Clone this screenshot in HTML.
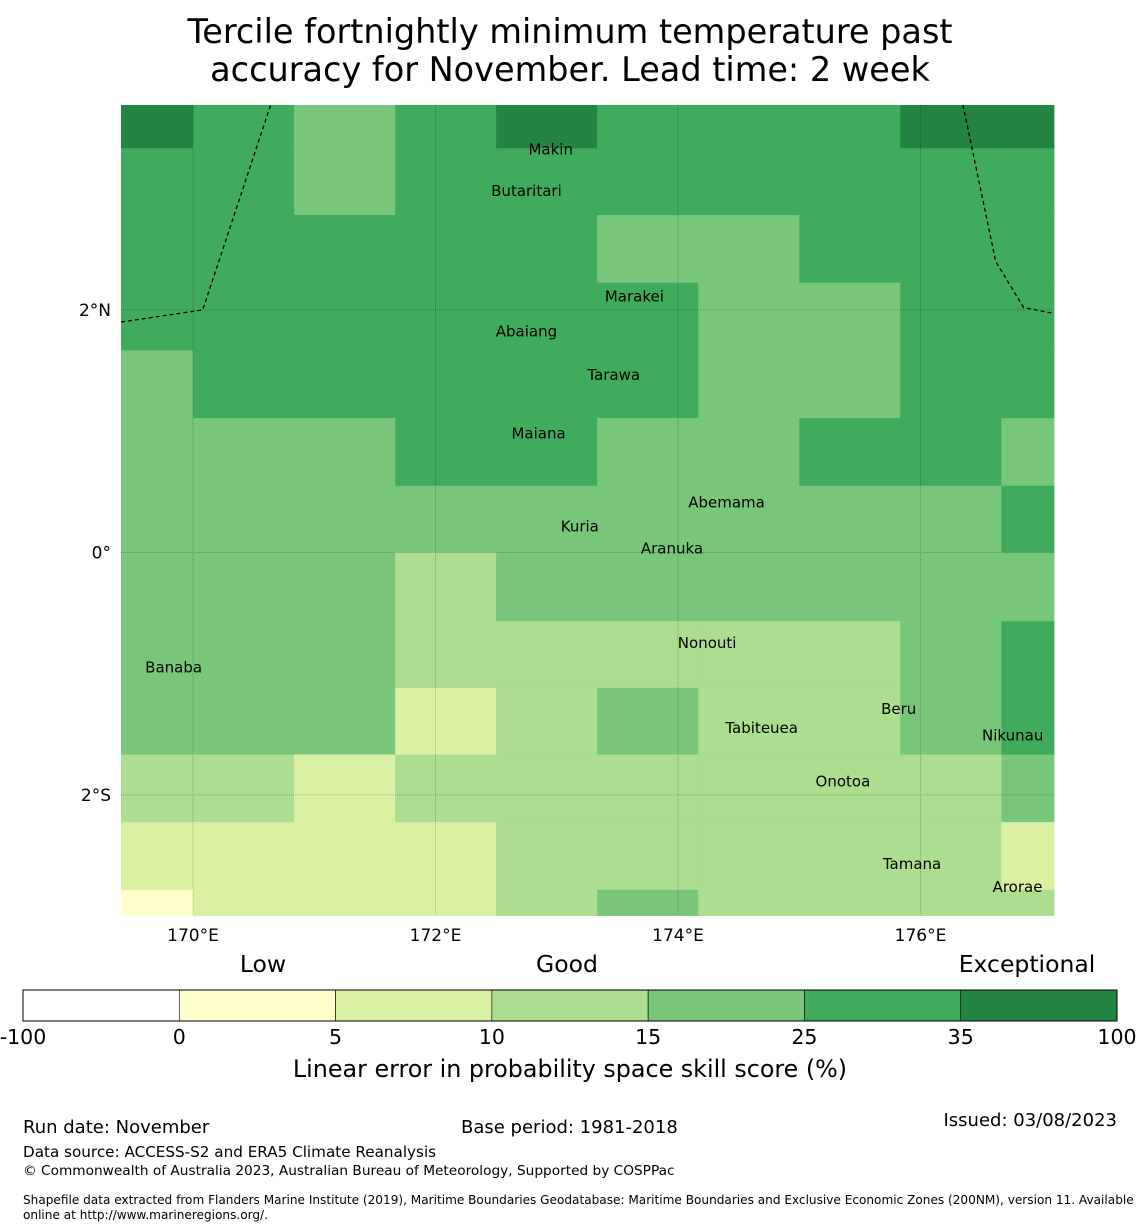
<!DOCTYPE html>
<html><head><meta charset="utf-8">
<style>
html,body{margin:0;padding:0;background:#fff;width:1140px;height:1230px;overflow:hidden;font-family:"DejaVu Sans","Liberation Sans",sans-serif;}
svg text{font-family:"DejaVu Sans","Liberation Sans",sans-serif;}
</style></head><body>
<svg id="chart" width="1140" height="1230" xmlns="http://www.w3.org/2000/svg">
<text x="570" y="43" font-size="33.5" text-anchor="middle">Tercile fortnightly minimum temperature past</text>
<text x="570" y="81" font-size="33.5" text-anchor="middle">accuracy for November. Lead time: 2 week</text>
<g id="map"></g>
<g id="cbar"></g>
<text x="570" y="1077" font-size="23.8" text-anchor="middle">Linear error in probability space skill score (%)</text>
<text x="23" y="1133" font-size="18">Run date: November</text>
<text x="461" y="1133" font-size="18">Base period: 1981-2018</text>
<text x="1117" y="1126" font-size="18" text-anchor="end">Issued: 03/08/2023</text>
<text x="23" y="1157" font-size="15.2">Data source: ACCESS-S2 and ERA5 Climate Reanalysis</text>
<text x="23" y="1175" font-size="13.7">© Commonwealth of Australia 2023, Australian Bureau of Meteorology, Supported by COSPPac</text>
<text x="23" y="1204" font-size="12.1">Shapefile data extracted from Flanders Marine Institute (2019), Maritime Boundaries Geodatabase: Maritime Boundaries and Exclusive Economic Zones (200NM), version 11. Available</text>
<text x="23" y="1219" font-size="12.1">online at http://www.marineregions.org/.</text>
</svg>
<script>
// Data
const lonEdges = [169.406, 170.0, 170.833, 171.667, 172.5, 173.333, 174.167, 175.0, 175.833, 176.667, 177.1];
const latEdges = [3.69, 3.333, 2.783, 2.225, 1.667, 1.108, 0.55, 0.0, -0.567, -1.117, -1.667, -2.225, -2.783, -2.994];
const skill = [
 [40,30,20,30,40,30,30,30,40,40],
 [30,30,20,30,30,30,30,30,30,30],
 [30,30,30,30,30,20,20,30,30,30],
 [30,30,30,30,30,30,20,20,30,30],
 [20,30,30,30,30,30,20,20,30,30],
 [20,20,20,30,30,20,20,30,30,20],
 [20,20,20,20,20,20,20,20,20,30],
 [20,20,20,12,20,20,20,20,20,20],
 [20,20,20,12,12,12,12,12,20,30],
 [20,20,20,7,12,20,12,12,20,30],
 [12,12,7,12,12,12,12,12,12,20],
 [7,7,7,7,12,12,12,12,12,7],
 [3,7,7,7,12,20,12,12,12,12]
];
const bounds = [-100,0,5,10,15,25,35,100];
const binColors = ['#ffffff','#ffffcc','#d9f0a3','#addd8e','#78c679','#41ab5d','#238443'];
const xTicks = [170,172,174,176];
const xTickLabels = ['170°E','172°E','174°E','176°E'];
const yTicks = [2,0,-2];
const yTickLabels = ['2°N','0°','2°S'];
const islands = [
 ['Makin',172.95,3.33],['Butaritari',172.75,2.99],['Marakei',173.64,2.12],['Abaiang',172.75,1.83],
 ['Tarawa',173.47,1.47],['Maiana',172.85,0.99],['Abemama',174.4,0.42],['Kuria',173.19,0.22],
 ['Aranuka',173.95,0.04],['Nonouti',174.24,-0.74],['Banaba',169.84,-0.94],['Beru',175.82,-1.285],
 ['Tabiteuea',174.69,-1.44],['Nikunau',176.76,-1.5],['Onotoa',175.36,-1.88],['Tamana',175.93,-2.56],['Arorae',176.8,-2.75]
];
const eezLeft = [[169.406,1.9],[170.08,2.0],[170.64,3.69]];
const eezRight = [[176.35,3.69],[176.62,2.4],[176.85,2.02],[177.1,1.97]];

const X0=121,X1=1054,Y0=105,Y1=915,lonMin=169.406,latMax=3.69,ppd=121.25;
const xs=l=>X0+(l-lonMin)*ppd, ys=l=>Y0+(latMax-l)*ppd;
const NS='http://www.w3.org/2000/svg';
function mk(t,a,p){const e=document.createElementNS(NS,t);for(const k in a)e.setAttribute(k,a[k]);p.appendChild(e);return e;}
function colorFor(v){for(let i=0;i<bounds.length-1;i++){if(v<bounds[i+1])return binColors[i];}return binColors[binColors.length-1];}
const map=document.getElementById('map');
for(let r=0;r<skill.length;r++)for(let c=0;c<skill[r].length;c++){
 const x=xs(lonEdges[c]),x2=xs(lonEdges[c+1]),y=ys(latEdges[r]),y2=ys(latEdges[r+1]);
 const e=mk('rect',{x:x,y:y,width:x2-x+0.5,height:y2-y+0.5,fill:colorFor(skill[r][c])},map);
 
 
}
xTicks.forEach((t,i)=>{const x=xs(t);
 const l=mk('line',{x1:x,y1:Y0,x2:x,y2:Y1,stroke:'#000','stroke-width':0.5,'stroke-opacity':0.5,'stroke-dasharray':'1,1'},map);
 
 
 const tx=mk('text',{x:x,y:941,'font-size':17,'text-anchor':'middle'},map);tx.textContent=xTickLabels[i];
 
 
});
yTicks.forEach((t,i)=>{const y=ys(t);
 const l=mk('line',{x1:X0,y1:y,x2:X1,y2:y,stroke:'#000','stroke-width':0.5,'stroke-opacity':0.5,'stroke-dasharray':'1,1'},map);
 
 
 const tx=mk('text',{x:111,y:y+6,'font-size':17,'text-anchor':'end'},map);tx.textContent=yTickLabels[i];
 
 
});
[eezLeft,eezRight].forEach(pts=>{
 const p=mk('polyline',{points:pts.map(q=>xs(q[0])+','+ys(q[1])).join(' '),fill:'none',stroke:'#000','stroke-width':1.3,'stroke-dasharray':'4,3'},map);
 
 
});
islands.forEach(d=>{const x=xs(d[1]),y=ys(d[2]);
 const t=mk('text',{x:x,y:y+6,'font-size':15,'text-anchor':'middle'},map);t.textContent=d[0];
 
 
});
const cb=document.getElementById('cbar');
const cx0=23,cw=1094,cy=990,ch=31,seg=cw/binColors.length;
binColors.forEach((c,i)=>{const e=mk('rect',{x:cx0+i*seg,y:cy,width:seg,height:ch,fill:c,stroke:'#000','stroke-width':0.6},cb);
 
 });
mk('rect',{x:cx0,y:cy,width:cw,height:ch,fill:'none',stroke:'#000','stroke-width':1},cb);
bounds.forEach((b,i)=>{const t=mk('text',{x:cx0+i*seg,y:1044,'font-size':20.5,'text-anchor':'middle'},cb);t.textContent=b;
 
 });
[['Low',263],['Good',567],['Exceptional',1027]].forEach(d=>{const t=mk('text',{x:d[1],y:972,'font-size':23.5,'text-anchor':'middle'},cb);t.textContent=d[0];
 
 });
</script>
</body></html>
